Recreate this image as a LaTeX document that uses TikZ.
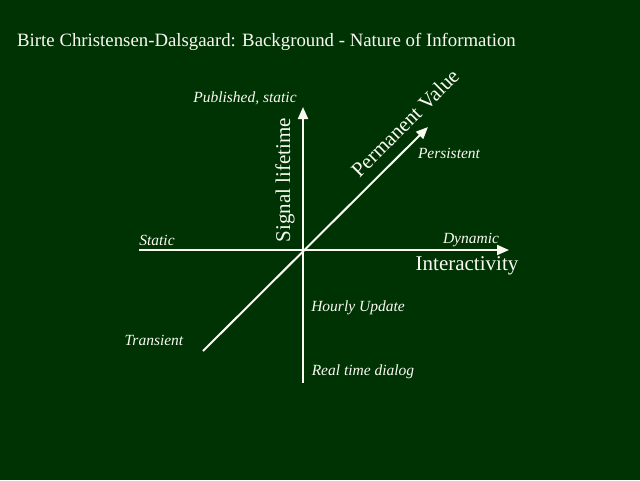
\documentclass[tikz,border=0pt]{standalone}
\usepackage{fontspec}
\setmainfont{Liberation Serif}
\usetikzlibrary{arrows.meta}
\definecolor{bg}{RGB}{0,51,4}
\definecolor{fg}{RGB}{250,250,240}
\begin{document}
\begin{tikzpicture}[x=1pt,y=-1pt,
  axis/.style={draw=fg,line width=2pt,-{Triangle[length=12pt,width=10pt]}},
  lbl/.style={text=fg,font=\fontsize{15.5}{17}\selectfont\itshape,inner sep=0pt},
  big/.style={text=fg,font=\fontsize{21}{23}\selectfont,inner sep=0pt}]
\fill[bg] (0,0) rectangle (640,480);
\useasboundingbox (0,0) rectangle (640,480);
\coordinate (O) at (303,250);
\coordinate (L) at (139,250);
\coordinate (R) at (509,250);
\coordinate (T) at (303,107);
\coordinate (B) at (303,383);
\coordinate (D1) at (203,351);
\coordinate (D2) at (428,127);
\node[anchor=west,text=fg,font=\fontsize{18.8}{21}\selectfont,inner sep=0pt] (title) at (17,42) {Birte Christensen-Dalsgaard: Background - Nature of Information};
\draw[axis] (L) -- (R);
\draw[axis] (B) -- (T);
\draw[axis] (D1) -- (D2);
\node[lbl] (pub) at (245,98) {Published, static};
\node[lbl] (pers) at (449,153) {Persistent};
\node[lbl] (stat) at (157,240) {Static};
\node[lbl] (dyn) at (471,240) {Dynamic};
\node[lbl] (hour) at (358,308) {Hourly Update};
\node[lbl] (trans) at (154,340) {Transient};
\node[lbl] (rt) at (363,372) {Real time dialog};
\node[big] (inter) at (467,266) {Interactivity};
\node[big,rotate=90] (sig) at (285,180) {Signal lifetime};
\node[big,rotate=45] (perm) at (405,123) {Permanent Value};
\end{tikzpicture}
\end{document}
